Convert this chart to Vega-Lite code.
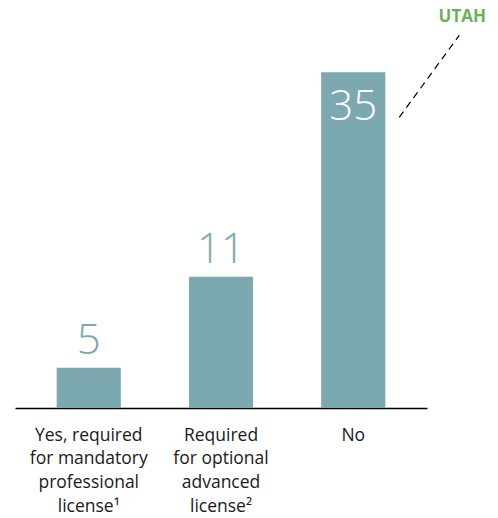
{
  "$schema": "https://vega.github.io/schema/vega-lite/v6.json",
  "autosize": "none",
  "width": 412,
  "height": 408,
  "padding": {"left": 15, "top": 0, "right": 71, "bottom": 110},
  "background": "white",
  "config": {"view": {"stroke": null}, "font": "Open Sans"},
  "data": {
    "values": [
      {"answer": "Yes, required|for mandatory|professional|license¹", "count": 5},
      {"answer": "Required|for optional|advanced|license²", "count": 11},
      {"answer": "No", "count": 35}
    ]
  },
  "encoding": {
    "x": {
      "field": "answer",
      "type": "nominal",
      "sort": null,
      "scale": {"paddingInner": 0.515, "paddingOuter": 0.315},
      "axis": {
        "title": null,
        "labelAngle": 0,
        "labelExpr": "split(datum.label, '|')",
        "labelFontSize": 17.5,
        "labelColor": "#1a1a1a",
        "labelLineHeight": 23.8,
        "labelPadding": 18,
        "labelBaseline": "top",
        "labelLimit": 0,
        "ticks": false,
        "domainColor": "#000000",
        "domainWidth": 1.6,
        "grid": false
      }
    },
    "y": {
      "field": "count",
      "type": "quantitative",
      "scale": {"domain": [0, 5, 11, 35], "range": [408, 367.7, 276.7, 72.3]},
      "axis": null
    }
  },
  "layer": [
    {"mark": {"type": "bar", "color": "#7BA9AF"}},
    {
      "transform": [{"filter": "datum.count < 30"}],
      "mark": {"type": "text", "baseline": "alphabetic", "dy": -14, "fontSize": 42, "fontWeight": 300, "color": "#7BA9AF"},
      "encoding": {"text": {"field": "count", "type": "quantitative"}}
    },
    {
      "transform": [{"filter": "datum.count >= 30"}],
      "mark": {"type": "text", "baseline": "alphabetic", "dy": 48, "fontSize": 42, "fontWeight": 300, "color": "#ffffff"},
      "encoding": {"text": {"field": "count", "type": "quantitative"}}
    },
    {
      "transform": [{"filter": "datum.count >= 30"}],
      "mark": {"type": "rule", "color": "#000000", "strokeWidth": 1.2, "strokeDash": [7, 5], "xOffset": 46, "x2Offset": 106, "yOffset": 45, "y2Offset": -37},
      "encoding": {"x2": {"field": "answer"}, "y2": {"field": "count"}}
    },
    {
      "transform": [{"filter": "datum.count >= 30"}],
      "mark": {"type": "text", "text": "UTAH", "color": "#6DAF5E", "fontWeight": "bold", "fontSize": 17, "dx": 109, "dy": -55, "baseline": "middle"}
    }
  ]
}
